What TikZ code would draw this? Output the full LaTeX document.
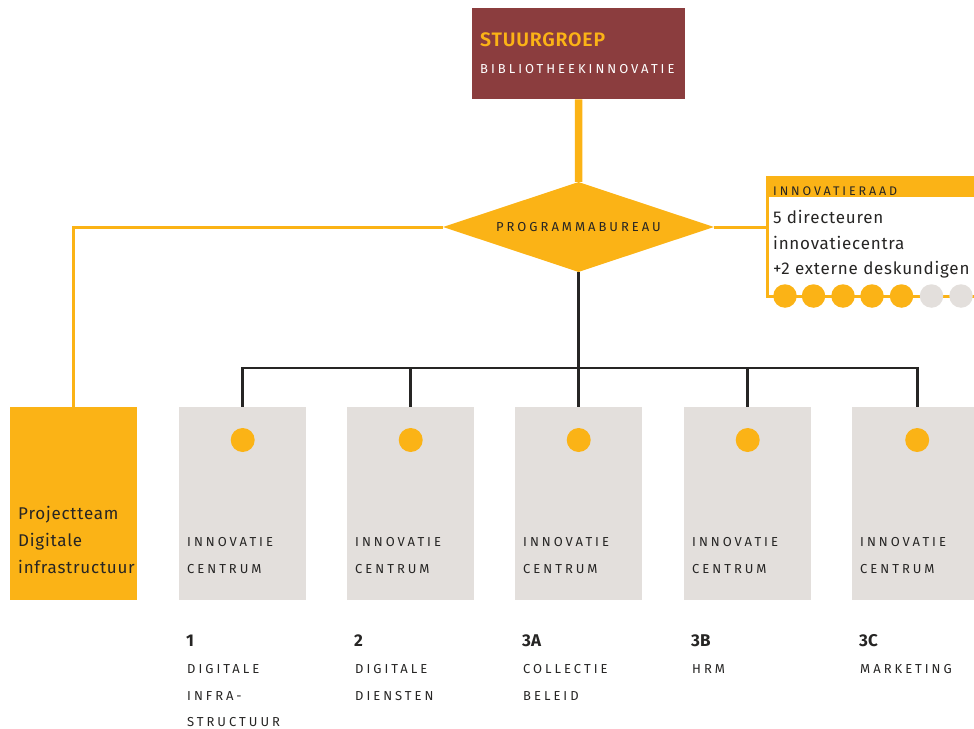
\documentclass[tikz,border=0pt]{standalone}
\usepackage{fontspec}
\setmainfont{Fira Sans}
\newfontfamily\spacedfont[LetterSpace=23]{Fira Sans}
\newfontfamily\trackedfont[LetterSpace=4.5]{Fira Sans}
\newfontfamily\boldtracked[LetterSpace=4]{Fira Sans SemiBold}
\usetikzlibrary{shapes.geometric}
\definecolor{orng}{HTML}{FBB316}
\definecolor{maroon}{HTML}{8B3D3E}
\definecolor{lgrey}{HTML}{E3DFDC}
\definecolor{ink}{HTML}{262524}
\begin{document}
\begin{tikzpicture}[x=1pt,y=-1pt,
  box/.style={rectangle, inner sep=0pt, anchor=north west},
  centrebox/.style={box, fill=lgrey, minimum width=127pt, minimum height=193pt},
  dotnode/.style={circle, inner sep=0pt, minimum size=24pt, fill=orng},
  raaddot/.style={circle, inner sep=0pt, minimum size=23.5pt, fill=#1},
  caps/.style={anchor=base west, inner sep=0pt, text=ink, font=\spacedfont\fontsize{13}{13}\selectfont},
  bigtxt/.style={anchor=base west, inner sep=0pt, text=ink, font=\trackedfont\fontsize{17}{17}\selectfont},
  numtxt/.style={anchor=base west, inner sep=0pt, text=ink, font=\bfseries\fontsize{17}{17}\selectfont},
  orline/.style={draw=orng, line width=3pt},
  treeline/.style={draw=ink, line width=2.7pt}
]
\useasboundingbox (0,0) rectangle (974,728);

% Stuurgroep
\node[box, fill=maroon, minimum width=213pt, minimum height=91pt] (stuur) at (472,8) {};
\node[anchor=base west, inner sep=0pt, text=orng, font=\boldtracked\fontsize{19.5}{19.5}\selectfont] (stuurA) at (480,46) {STUURGROEP};
\node[anchor=base west, inner sep=0pt, text=white, font=\spacedfont\fontsize{13}{13}\selectfont] (stuurB) at (480,73) {BIBLIOTHEEKINNOVATIE};

% Programmabureau
\node[diamond, shape aspect=3, fill=orng, minimum width=271pt, minimum height=90pt, inner sep=0pt,
      text=ink, font=\spacedfont\fontsize{13}{13}\selectfont] (prog) at (578.5,227) {PROGRAMMABUREAU};
\draw[draw=orng, line width=7.5pt] (stuur.south) -- (prog.north);

% Projectteam
\node[box, fill=orng, minimum width=127pt, minimum height=193pt] (proj) at (10,407) {};
\node[bigtxt] (projA) at (18,519) {Projectteam};
\node[bigtxt] (projB) at (18,546) {Digitale};
\node[bigtxt] (projC) at (18,573) {infrastructuur};

% Innovatieraad
\node[box, fill=orng, minimum width=207pt, minimum height=21pt] (raadhead) at (767,176) {};
\node[anchor=base west, inner sep=0pt, text=ink, font=\spacedfont\fontsize{12.5}{12.5}\selectfont] (raadT) at (773,195) {INNOVATIERAAD};
\node[bigtxt] (raadA) at (773,223) {5 directeuren};
\node[bigtxt] (raadB) at (773,249) {innovatiecentra};
\node[bigtxt] (raadC) at (773,274) {+2 externe deskundigen};
\coordinate (raadcorner) at (767,296);
\coordinate (raadend) at (974,296);
\draw[orline] (raadhead.north west) -- (raadcorner) -- (raadend);
\foreach \i/\x/\c in {1/785/orng,2/813.5/orng,3/843/orng,4/872/orng,5/901.5/orng,6/931.5/lgrey,7/961/lgrey}
  \node[raaddot=\c] (rd\i) at (\x,296) {};

% orange connectors
\draw[orline] (prog.west) -| (proj.north);
\draw[orline] (prog.east) -- (prog.east -| raadhead.west);

% innovation centres
\node[centrebox] (c1) at (179,407) {};
\node[centrebox] (c2) at (347,407) {};
\node[centrebox] (c3) at (515,407) {};
\node[centrebox] (c4) at (684,407) {};
\node[centrebox, minimum width=130pt] (c5) at (852,407) {};

\coordinate (hub) at (578.5,368);
\draw[treeline] (prog.south) -- (hub);
\draw[treeline, line cap=rect] (c1.north |- hub) -- (c5.north |- hub);
\foreach \k in {1,...,5} {
  \draw[treeline] (c\k.north |- hub) -- (c\k.north);
  \node[dotnode] (d\k) at ([yshift=-33pt]c\k.north) {};
}
\foreach \k/\x in {1/187,2/355,3/523,4/692,5/860} {
  \node[caps] (ia\k) at (\x,546) {INNOVATIE};
  \node[caps] (ib\k) at (\x,573) {CENTRUM};
}

% labels below
\node[numtxt] (n1) at (186,646) {1};
\node[caps] (l1a) at (187,673) {DIGITALE};
\node[caps] (l1b) at (187,700) {INFRA-};
\node[caps] (l1c) at (187,726) {STRUCTUUR};
\node[numtxt] (n2) at (354,646) {2};
\node[caps] (l2a) at (355,673) {DIGITALE};
\node[caps] (l2b) at (355,700) {DIENSTEN};
\node[numtxt] (n3) at (522,646) {3A};
\node[caps] (l3a) at (523,673) {COLLECTIE};
\node[caps] (l3b) at (523,700) {BELEID};
\node[numtxt] (n4) at (691,646) {3B};
\node[caps] (l4a) at (692,673) {HRM};
\node[numtxt] (n5) at (859,646) {3C};
\node[caps] (l5a) at (860,673) {MARKETING};
\end{tikzpicture}
\end{document}
